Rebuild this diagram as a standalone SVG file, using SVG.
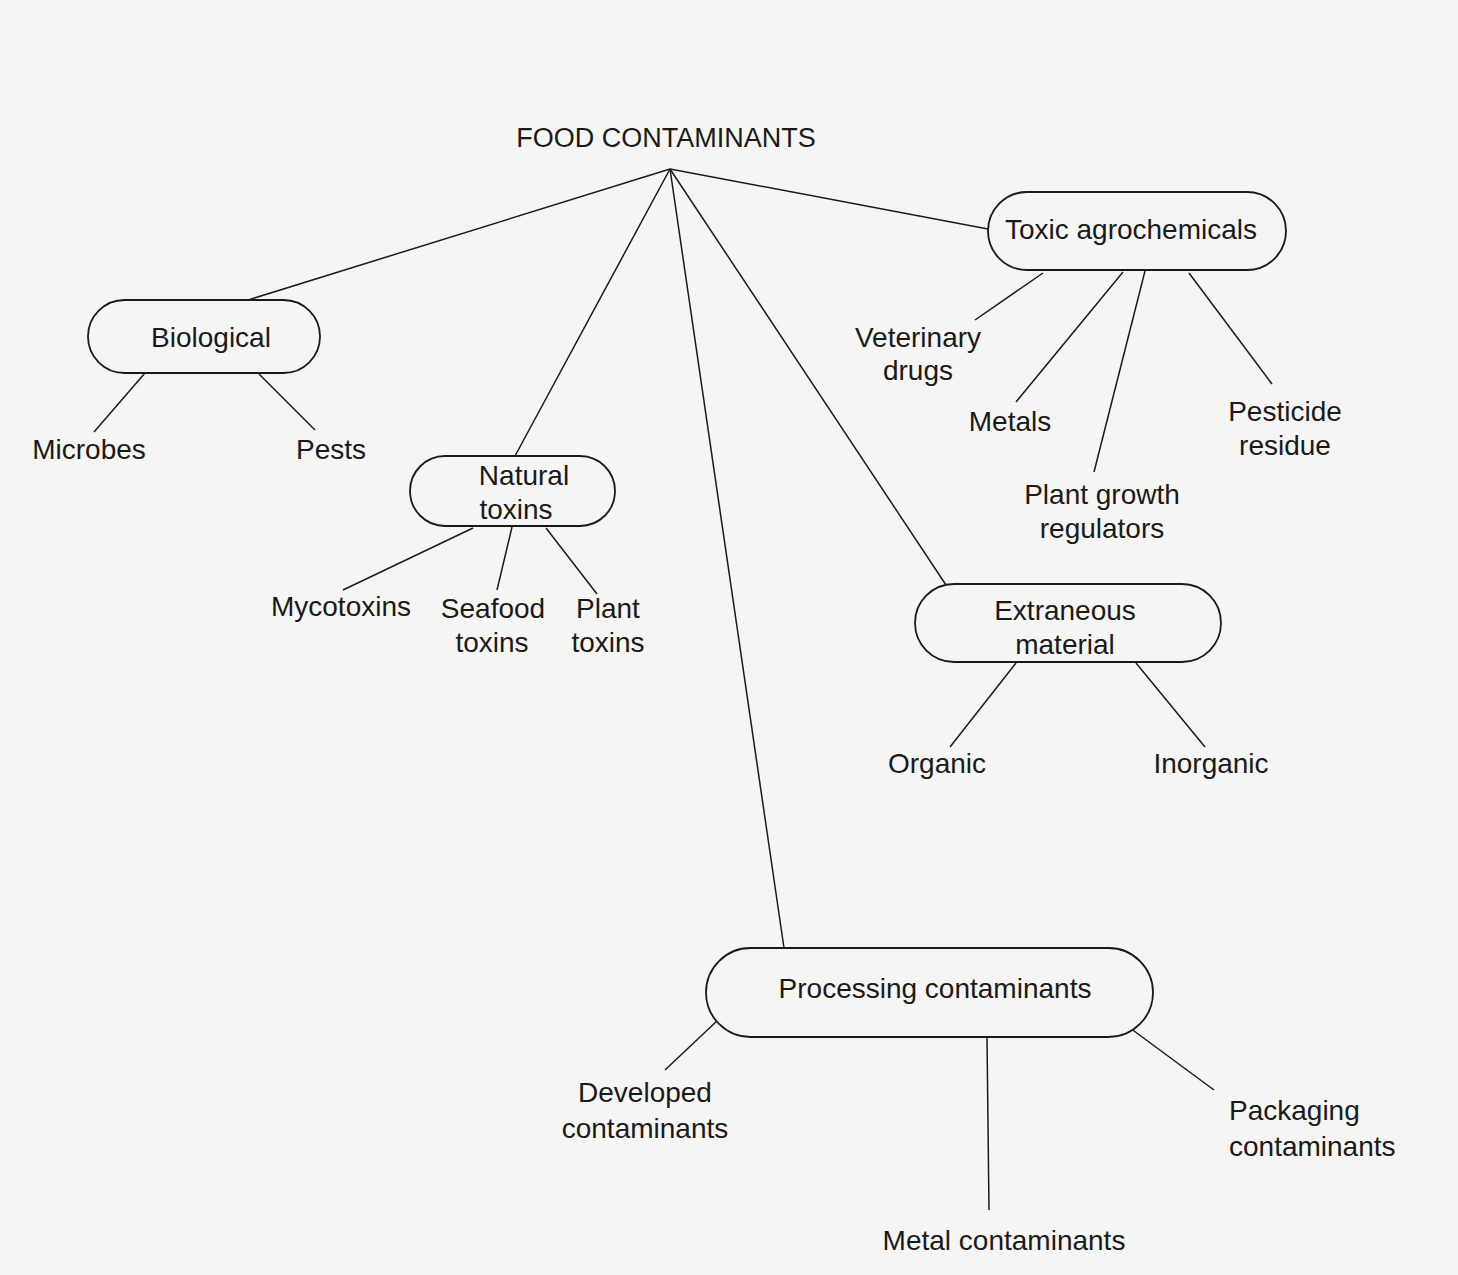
<svg xmlns="http://www.w3.org/2000/svg" width="1458" height="1275" viewBox="0 0 1458 1275">
<style>
text{font-family:"Liberation Sans",Arial,sans-serif;font-size:28px;fill:#1a1a1a;text-anchor:middle}
.pill{fill:#f5f5f3;stroke:#1a1a1a;stroke-width:1.8}
.ln{stroke:#1a1a1a;stroke-width:1.5;fill:none}
.st{text-anchor:start}
</style>
<rect width="1458" height="1275" fill="#f5f5f3"/>
<g id="connectors">
<line class="ln" x1="670" y1="169" x2="248" y2="300"/>
<line class="ln" x1="670" y1="169" x2="515" y2="456"/>
<line class="ln" x1="670" y1="169" x2="784" y2="948"/>
<line class="ln" x1="670" y1="169" x2="946" y2="585"/>
<line class="ln" x1="670" y1="169" x2="988" y2="229"/>
<line class="ln" x1="145" y1="373" x2="94" y2="432"/>
<line class="ln" x1="259" y1="374" x2="315" y2="430"/>
<line class="ln" x1="473" y1="528" x2="343" y2="590"/>
<line class="ln" x1="512" y1="527" x2="497" y2="590"/>
<line class="ln" x1="546" y1="528" x2="597" y2="594"/>
<line class="ln" x1="1043" y1="273" x2="975" y2="320"/>
<line class="ln" x1="1123" y1="272" x2="1016" y2="402"/>
<line class="ln" x1="1145" y1="271" x2="1094" y2="472"/>
<line class="ln" x1="1189" y1="273" x2="1272" y2="384"/>
<line class="ln" x1="1016" y1="663" x2="950" y2="747"/>
<line class="ln" x1="1136" y1="663" x2="1205" y2="747"/>
<line class="ln" x1="718" y1="1020" x2="665" y2="1070"/>
<line class="ln" x1="987" y1="1038" x2="989" y2="1210"/>
<line class="ln" x1="1130" y1="1028" x2="1214" y2="1090"/>
</g>
<g id="root"><text x="666" y="147" style="font-size:27px">FOOD CONTAMINANTS</text></g>
<g id="biological">
<rect class="pill" x="88" y="300" width="232" height="73" rx="36.5"/>
<text x="211" y="347">Biological</text>
</g>
<g id="microbes"><text x="89" y="459">Microbes</text></g>
<g id="pests"><text x="331" y="459">Pests</text></g>
<g id="natural-toxins">
<rect class="pill" x="410" y="456" width="205" height="70" rx="35"/>
<text x="524" y="485">Natural</text>
<text x="516" y="519">toxins</text>
</g>
<g id="mycotoxins"><text x="341" y="616">Mycotoxins</text></g>
<g id="seafood-toxins"><text x="493" y="618">Seafood</text><text x="492" y="652">toxins</text></g>
<g id="plant-toxins"><text x="608" y="618">Plant</text><text x="608" y="652">toxins</text></g>
<g id="toxic-agrochemicals">
<rect class="pill" x="988" y="192" width="298" height="78" rx="39"/>
<text x="1131" y="239">Toxic agrochemicals</text>
</g>
<g id="veterinary-drugs"><text x="918" y="347">Veterinary</text><text x="918" y="380">drugs</text></g>
<g id="metals"><text x="1010" y="431">Metals</text></g>
<g id="plant-growth-regulators"><text x="1102" y="504">Plant growth</text><text x="1102" y="538">regulators</text></g>
<g id="pesticide-residue"><text x="1285" y="421">Pesticide</text><text x="1285" y="455">residue</text></g>
<g id="extraneous-material">
<rect class="pill" x="915" y="584" width="306" height="78" rx="39"/>
<text x="1065" y="620">Extraneous</text>
<text x="1065" y="654">material</text>
</g>
<g id="organic"><text x="937" y="773">Organic</text></g>
<g id="inorganic"><text x="1211" y="773">Inorganic</text></g>
<g id="processing-contaminants">
<rect class="pill" x="706" y="948" width="447" height="89" rx="44.5"/>
<text x="935" y="998">Processing contaminants</text>
</g>
<g id="developed-contaminants"><text x="645" y="1102">Developed</text><text x="645" y="1138">contaminants</text></g>
<g id="packaging-contaminants"><text class="st" x="1229" y="1120">Packaging</text><text class="st" x="1229" y="1156">contaminants</text></g>
<g id="metal-contaminants"><text x="1004" y="1250">Metal contaminants</text></g>
</svg>
